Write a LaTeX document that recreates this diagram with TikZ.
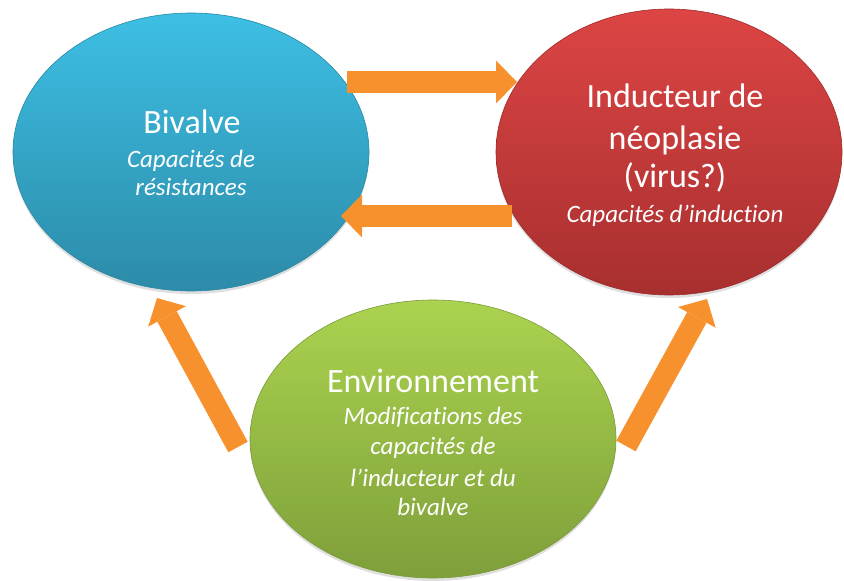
\documentclass[tikz,border=0pt]{standalone}
\usepackage{fontspec}
\setmainfont{Carlito}[Ligatures=NoCommon]
\usetikzlibrary{shapes.geometric,arrows.meta,shadows}
\definecolor{bluetop}{HTML}{3DBFE4}
\definecolor{bluebot}{HTML}{2C8BA8}
\definecolor{bluedraw}{HTML}{2A88A4}
\definecolor{redtop}{HTML}{DC4544}
\definecolor{redbot}{HTML}{A82F2F}
\definecolor{reddraw}{HTML}{9E2C2C}
\definecolor{greentop}{HTML}{ABD34F}
\definecolor{greenbot}{HTML}{7E9F3A}
\definecolor{greendraw}{HTML}{799A37}
\definecolor{arroworange}{HTML}{F7912E}
\definecolor{arrowlight}{HTML}{F9A04A}
\tikzset{
  bubble/.style={ellipse, inner sep=0pt, line width=0.6pt,
    drop shadow={shadow xshift=0pt, shadow yshift=-3pt, opacity=0.25}},
  title/.style={text=white, font=\fontsize{34}{38}\selectfont,
    anchor=base, inner sep=0pt},
  sub/.style={text=white, font=\fontsize{25}{28}\selectfont\itshape,
    anchor=base, inner sep=0pt},
  blockarrow/.style={arroworange, line width=22pt,
    -{Triangle[width=43pt,length=21pt,line width=0pt]}},
}
\begin{document}
\begin{tikzpicture}[x=1pt,y=1pt]
\useasboundingbox (0,0) rectangle (844,581);
% ellipses
\node[bubble, minimum width=356pt, minimum height=278pt,
  top color=bluetop, bottom color=bluebot, draw=bluedraw] (blue) at (191,429) {};
\node[bubble, minimum width=346pt, minimum height=286pt,
  top color=redtop, bottom color=redbot, draw=reddraw] (red) at (669,429) {};
\node[bubble, minimum width=366pt, minimum height=278pt,
  top color=greentop, bottom color=greenbot, draw=greendraw] (green) at (433,142) {};
% arrow end points
\coordinate (a1s) at (347,499);
\coordinate (a1e) at (517,499);
\coordinate (a2s) at (512,365);
\coordinate (a2e) at (341,365);
\coordinate (a3s) at (238,134);
\coordinate (a3e) at (157,283);
\coordinate (a4s) at (626,135);
\coordinate (a4e) at (707,282);
\draw[blockarrow] (a1s) -- (a1e);
\draw[blockarrow] (a2s) -- (a2e);
\draw[blockarrow] (a3s) -- (a3e);
\draw[blockarrow] (a4s) -- (a4e);
% texts
\node[title] (b1) at (192,447) {Bivalve};
\node[sub] (b2) at (191,413) {Capacités de};
\node[sub] (b3) at (191,385) {résistances};
\node[title] (r1) at (675,473) {Inducteur de};
\node[title] (r2) at (675,431) {néoplasie};
\node[title] (r3) at (675,393) {(virus?)};
\node[sub] (r4) at (675,358) {Capacités d’induction};
\node[title] (g1) at (433,188) {Environnement};
\node[sub] (g2) at (433,156) {Modifications des};
\node[sub] (g3) at (433,126) {capacités de};
\node[sub] (g4) at (433,94) {l’inducteur et du};
\node[sub] (g5) at (433,65) {bivalve};
\end{tikzpicture}
\end{document}
